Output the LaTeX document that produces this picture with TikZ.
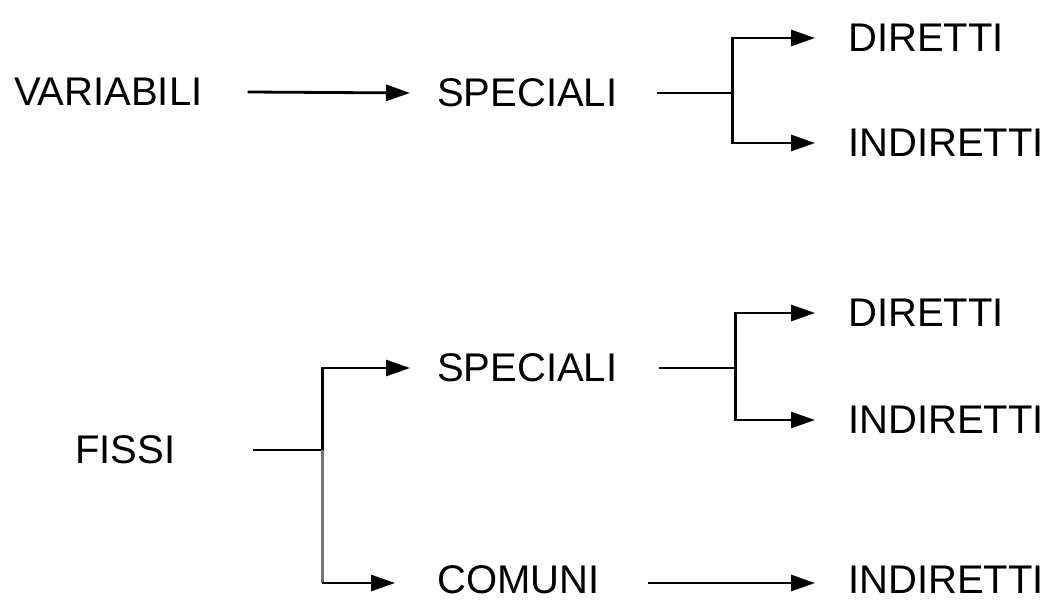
\documentclass[tikz,border=0pt]{standalone}
\usepackage{fontspec}
\setmainfont{Liberation Sans}
\usetikzlibrary{positioning, arrows.meta, calc}

\begin{document}
\begin{tikzpicture}[x=1pt, y=-1pt,
  label/.style={anchor=west, inner sep=0pt, font=\fontsize{40}{48}\selectfont},
  conn/.style={line width=2.8pt},
  arr/.style={conn, -{Triangle[length=24pt, width=16pt]}}]
  \useasboundingbox (0,0) rectangle (1049,602);
  % upper part
  \node[label] (var) at (14,92) {VARIABILI};
  \node[label] (spec1) at (437,93) {SPECIALI};
  \node[label] (dir1) at (848,38) {DIRETTI};
  \node[label] (ind1) at (848,143) {INDIRETTI};
  % lower part
  \node[label] (fissi) at (75,450) {FISSI};
  \node[label] (spec2) at (437,368) {SPECIALI};
  \node[label] (dir2) at (848,313) {DIRETTI};
  \node[label] (ind2) at (848,420) {INDIRETTI};
  \node[label] (com) at (437,580) {COMUNI};
  \node[label] (ind3) at (848,580) {INDIRETTI};

  \draw[arr] ([xshift=45pt]var.east) -- ([xshift=-27pt]spec1.west);
  \draw[conn] ([xshift=40pt]spec1.east) -- ++(75,0) coordinate (j1);
  \draw[arr] (j1) |- ([xshift=-33pt]dir1.west);
  \draw[arr] (j1) |- ([xshift=-33pt]ind1.west);

  \draw[conn] ([xshift=78pt]fissi.east) -- ++(69,0) coordinate (j2);
  \draw[arr] (j2) |- ([xshift=-27pt]spec2.west);
  \draw[conn, black!55] (j2) -- ($(j2|-com.west)+(0,3)$);
  \draw[arr] ($(j2|-com.west)+(0,3)$) -- ([xshift=-42pt, yshift=-3pt]com.west);

  \draw[conn] ([xshift=42pt]spec2.east) -- ++(76,0) coordinate (j3);
  \draw[arr] (j3) |- ([xshift=-33pt]dir2.west);
  \draw[arr] (j3) |- ([xshift=-33pt]ind2.west);

  \draw[arr] ([xshift=48pt, yshift=-3pt]com.east) -- ([xshift=-33pt, yshift=-3pt]ind3.west);
\end{tikzpicture}
\end{document}
